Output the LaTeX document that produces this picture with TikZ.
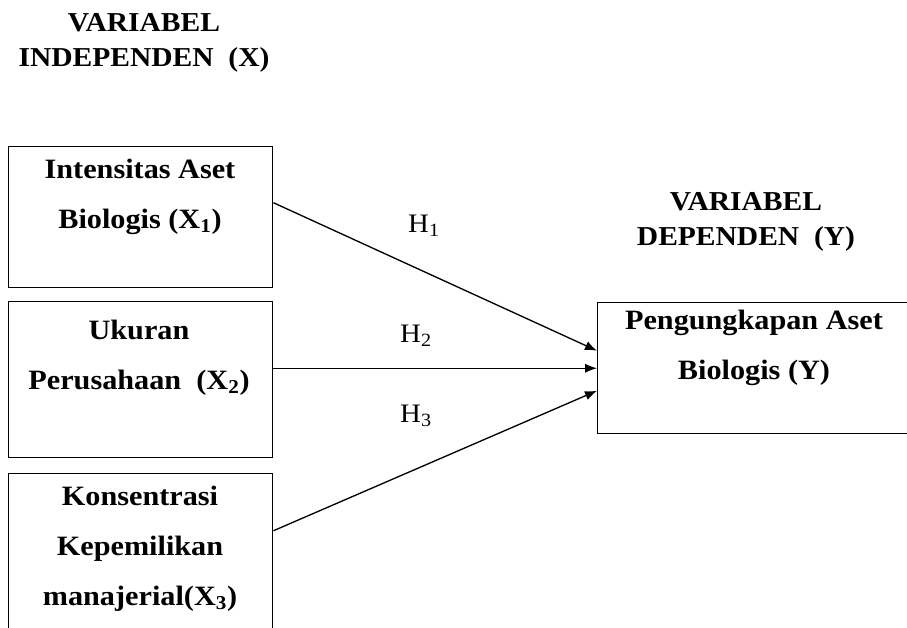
\documentclass[tikz,border=0pt]{standalone}
\usepackage{fontspec}
\setmainfont{Liberation Serif}[FakeStretch=1.08]
\usetikzlibrary{arrows.meta}
\tikzset{%
  varbox/.style={draw, line width=1.1pt, anchor=north west, minimum width=198pt, inner sep=0pt}, % the boxes
  boxtext/.style={align=center, font=\fontsize{21}{37.5}\selectfont\bfseries},
  headtext/.style={align=center, font=\fontsize{20.5}{26}\selectfont\bfseries},
  hyp/.style={font=\fontsize{20}{24}\selectfont},
  every edge/.style={draw, ->, line width=1pt}
}

\begin{document}
\begin{tikzpicture}[x=0.75pt, y=-0.75pt, >={Latex[length=9pt, width=7pt]}]
\useasboundingbox (0,0) rectangle (907,628);

% headings
\node[headtext] (indep) at (144,43) {VARIABEL\\INDEPENDEN\ \ (X)};
\node[headtext] (dep) at (746,222) {VARIABEL\\DEPENDEN\ \ (Y)};

% boxes
\node[varbox, minimum height=105.75pt] (x1) at (8,146) {};
\node[varbox, minimum height=117pt] (x2) at (8,301) {};
\node[varbox, minimum height=135pt] (x3) at (8,473) {};
\node[varbox, minimum width=249.75pt, minimum height=98.25pt] (y) at (597,302) {};

% box texts
\node[boxtext] (x1t) at (140,197) {Intensitas Aset\\Biologis (X\textsubscript{1})};
\node[boxtext] (x2t) at (139,358) {Ukuran\\Perusahaan\ \ (X\textsubscript{2})};
\node[boxtext] (x3t) at (140,549) {Konsentrasi\\Kepemilikan\\manajerial(X\textsubscript{3})};
\node[boxtext] (yt) at (754,348) {Pengungkapan Aset\\Biologis (Y)};

% hypotheses
\draw ([yshift=10.875pt]x1.east) edge ([yshift=13.125pt]y.west);
\draw ([yshift=8.625pt]x2.east) edge (y.west);
\draw ([yshift=24.75pt]x3.east) edge ([yshift=-16.875pt]y.west);

\node[hyp] (h1) at (424,226) {H\textsubscript{1}};
\node[hyp] (h2) at (416,336) {H\textsubscript{2}};
\node[hyp] (h3) at (416,416) {H\textsubscript{3}};

\end{tikzpicture}
\end{document}
